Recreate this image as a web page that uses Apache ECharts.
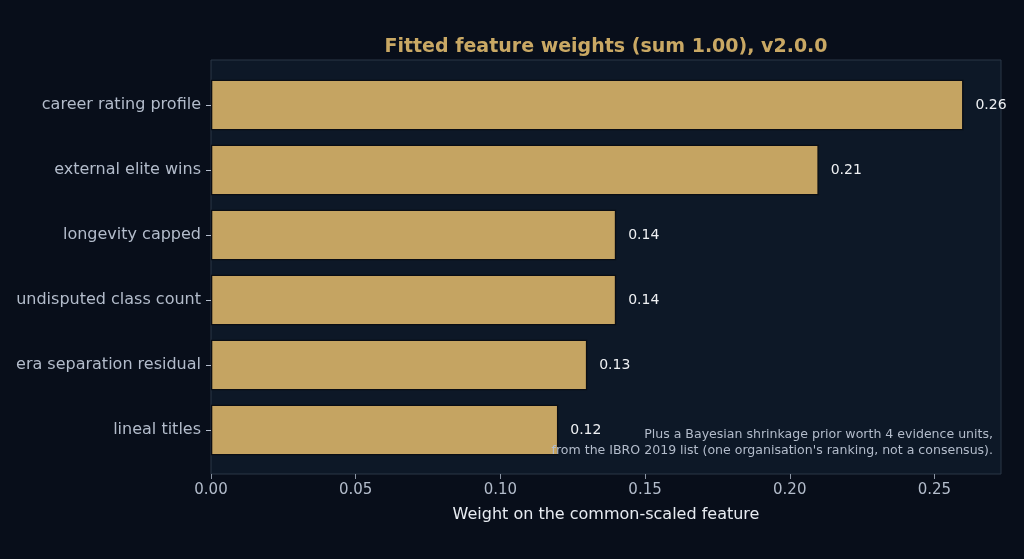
<!DOCTYPE html>
<html><head><meta charset="utf-8">
<script src="https://cdn.jsdelivr.net/npm/echarts@6/dist/echarts.min.js"></script>
<style>html,body{margin:0;padding:0;background:#080e1a;}#c{width:1024px;height:559px;}</style>
</head><body><div id="c"></div>
<script>
const categories = ["career rating profile","external elite wins","longevity capped","undisputed class count","era separation residual","lineal titles"];
const weights = [0.26, 0.21, 0.14, 0.14, 0.13, 0.12];
const xTicks = [0, 0.05, 0.10, 0.15, 0.20, 0.25];
const titleText = "Fitted feature weights (sum 1.00), v2.0.0";
const xAxisTitle = "Weight on the common-scaled feature";
const noteLines = ["Plus a Bayesian shrinkage prior worth 4 evidence units,", "from the IBRO 2019 list (one organisation's ranking, not a consensus)."];

const FONT = "DejaVu Sans";
const L = 211, R = 23, T = 60, B = 85;
const xMax = 0.273;

const chart = echarts.init(document.getElementById('c'), null, {renderer:'canvas'});
chart.setOption({
  backgroundColor: '#080e1a',
  animation: false,
  title: {text: titleText, left: 601, top: 33, textAlign: 'center',
    textStyle: {color: '#c9a864', fontFamily: FONT, fontWeight: 'bold', fontSize: 19}},
  grid: [
    {left: L, right: R, top: T, bottom: B, show: true, backgroundColor: '#0d1827', borderColor: '#2b3747', borderWidth: 1},
    {left: L, right: R, top: T + 12.5, bottom: B + 11.5}
  ],
  xAxis: [
    {gridIndex: 0, type: 'value', min: 0, max: xMax,
      axisLine: {show: false},
      axisTick: {show: true, length: 5, customValues: xTicks, lineStyle: {color: '#8a94a3'}},
      splitLine: {show: false},
      axisLabel: {color: '#b3bccb', fontFamily: FONT, fontSize: 15, margin: 9, customValues: xTicks,
        formatter: v => v.toFixed(2)},
      name: xAxisTitle, nameLocation: 'middle', nameGap: 33,
      nameTextStyle: {color: '#e8ecf2', fontFamily: FONT, fontSize: 16}},
    {gridIndex: 1, type: 'value', min: 0, max: xMax, show: false}
  ],
  yAxis: [
    {gridIndex: 0, type: 'value', show: false, min: 0, max: 1},
    {gridIndex: 1, type: 'category', data: categories, inverse: true,
      axisLine: {show: false},
      axisTick: {show: true, alignWithLabel: true, length: 5, lineStyle: {color: '#b3bccb'}},
      axisLabel: {color: '#b3bccb', fontFamily: FONT, fontSize: 16, margin: 10}}
  ],
  series: [{
    type: 'bar', xAxisIndex: 1, yAxisIndex: 1, data: weights,
    barCategoryGap: '22%',
    itemStyle: {color: '#c5a462', borderColor: '#0a0d14', borderWidth: 1.3},
    label: {show: true, position: 'right', distance: 12, color: '#eef0f3', fontFamily: FONT, fontSize: 14,
      formatter: p => p.value.toFixed(2)}
  }],
  graphic: [
    {type: 'text', x: 993, y: 435, z: 100, style: {text: noteLines[0], fill: '#b3bccb', font: '12.55px "DejaVu Sans"', align: 'right', verticalAlign: 'middle'}},
    {type: 'text', x: 993, y: 451, z: 100, style: {text: noteLines[1], fill: '#b3bccb', font: '12.55px "DejaVu Sans"', align: 'right', verticalAlign: 'middle'}}
  ]
});
</script></body></html>
